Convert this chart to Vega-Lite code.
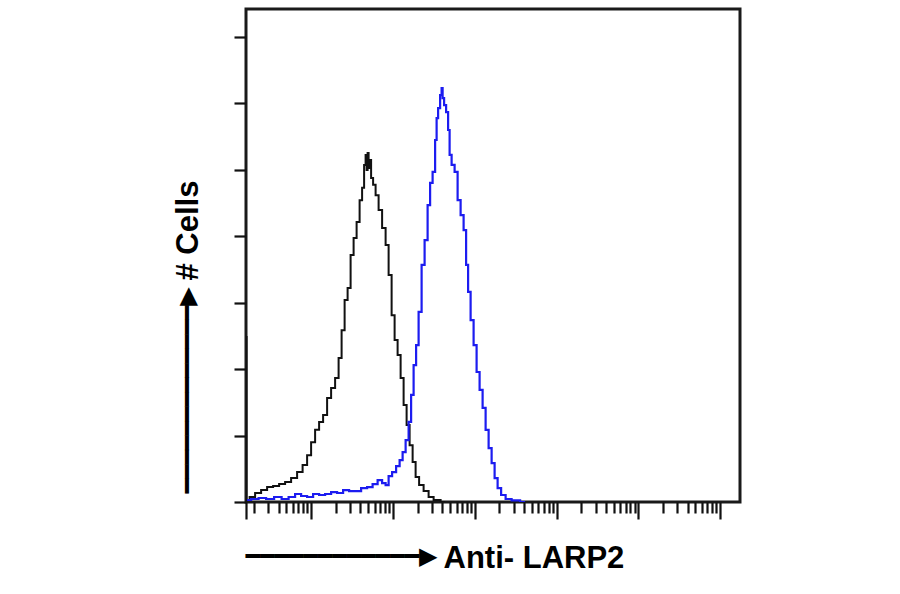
{
  "$schema": "https://vega.github.io/schema/vega-lite/v6.json",
  "autosize": {"type": "none"},
  "padding": {"left": 246, "top": 9, "right": 160, "bottom": 92},
  "width": 494,
  "height": 493,
  "background": "white",
  "config": {
    "view": {"stroke": "#1a1a1a", "strokeWidth": 3},
    "axis": {"grid": false, "labels": false, "domain": false, "tickColor": "#111111", "tickWidth": 2.2, "titleColor": "#000000"}
  },
  "data": {"values": [
    {"series": "control", "x": 1.6, "count": 49.6},
    {"series": "control", "x": 1.651, "count": 0.6},
    {"series": "control", "x": 1.9, "count": 1.5},
    {"series": "control", "x": 2.25, "count": 2.7},
    {"series": "control", "x": 2.664, "count": 3.6},
    {"series": "control", "x": 3.153, "count": 4.5},
    {"series": "control", "x": 3.734, "count": 4.8},
    {"series": "control", "x": 4.421, "count": 5.4},
    {"series": "control", "x": 5.234, "count": 6.0},
    {"series": "control", "x": 6.197, "count": 7.2},
    {"series": "control", "x": 7.337, "count": 9.0},
    {"series": "control", "x": 8.446, "count": 11.1},
    {"series": "control", "x": 9.453, "count": 14.1},
    {"series": "control", "x": 10.58, "count": 18.0},
    {"series": "control", "x": 11.84, "count": 21.7},
    {"series": "control", "x": 13.25, "count": 24.1},
    {"series": "control", "x": 14.83, "count": 26.2},
    {"series": "control", "x": 16.6, "count": 31.3},
    {"series": "control", "x": 18.58, "count": 34.3},
    {"series": "control", "x": 20.79, "count": 37.3},
    {"series": "control", "x": 22.62, "count": 43.3},
    {"series": "control", "x": 24.62, "count": 51.7},
    {"series": "control", "x": 26.79, "count": 60.8},
    {"series": "control", "x": 29.14, "count": 64.4},
    {"series": "control", "x": 31.71, "count": 74.3},
    {"series": "control", "x": 34.51, "count": 79.4},
    {"series": "control", "x": 37.55, "count": 84.2},
    {"series": "control", "x": 40.85, "count": 90.8},
    {"series": "control", "x": 43.22, "count": 94.5},
    {"series": "control", "x": 45.72, "count": 101.4},
    {"series": "control", "x": 47.03, "count": 104.4},
    {"series": "control", "x": 48.37, "count": 99.9},
    {"series": "control", "x": 49.75, "count": 105.0},
    {"series": "control", "x": 51.17, "count": 100.5},
    {"series": "control", "x": 52.63, "count": 102.9},
    {"series": "control", "x": 55.68, "count": 97.5},
    {"series": "control", "x": 58.9, "count": 95.4},
    {"series": "control", "x": 64.1, "count": 92.3},
    {"series": "control", "x": 69.75, "count": 87.8},
    {"series": "control", "x": 78.06, "count": 82.4},
    {"series": "control", "x": 84.95, "count": 77.3},
    {"series": "control", "x": 92.44, "count": 68.3},
    {"series": "control", "x": 100.6, "count": 56.2},
    {"series": "control", "x": 109.4, "count": 48.7},
    {"series": "control", "x": 119.1, "count": 44.2},
    {"series": "control", "x": 129.6, "count": 37.3},
    {"series": "control", "x": 141.0, "count": 29.2},
    {"series": "control", "x": 153.4, "count": 23.2},
    {"series": "control", "x": 167.0, "count": 17.1},
    {"series": "control", "x": 181.7, "count": 12.0},
    {"series": "control", "x": 197.6, "count": 7.5},
    {"series": "control", "x": 221.2, "count": 5.1},
    {"series": "control", "x": 254.6, "count": 3.3},
    {"series": "control", "x": 293.1, "count": 1.5},
    {"series": "control", "x": 337.5, "count": 0.6},
    {"series": "control", "x": 434.6, "count": 0},
    {"series": "LARP2", "x": 1.651, "count": 0.6},
    {"series": "LARP2", "x": 2.067, "count": 0.9},
    {"series": "LARP2", "x": 2.518, "count": 1.2},
    {"series": "LARP2", "x": 3.153, "count": 0.9},
    {"series": "LARP2", "x": 3.951, "count": 1.5},
    {"series": "LARP2", "x": 4.811, "count": 0.9},
    {"series": "LARP2", "x": 5.856, "count": 1.5},
    {"series": "LARP2", "x": 6.936, "count": 2.4},
    {"series": "LARP2", "x": 8.212, "count": 1.8},
    {"series": "LARP2", "x": 9.723, "count": 1.5},
    {"series": "LARP2", "x": 11.51, "count": 2.4},
    {"series": "LARP2", "x": 13.63, "count": 2.1},
    {"series": "LARP2", "x": 16.14, "count": 2.4},
    {"series": "LARP2", "x": 19.1, "count": 3.0},
    {"series": "LARP2", "x": 22.62, "count": 2.7},
    {"series": "LARP2", "x": 26.79, "count": 3.6},
    {"series": "LARP2", "x": 31.71, "count": 3.3},
    {"series": "LARP2", "x": 37.55, "count": 3.3},
    {"series": "LARP2", "x": 44.45, "count": 4.2},
    {"series": "LARP2", "x": 52.63, "count": 4.5},
    {"series": "LARP2", "x": 60.58, "count": 5.4},
    {"series": "LARP2", "x": 69.75, "count": 6.6},
    {"series": "LARP2", "x": 78.06, "count": 5.7},
    {"series": "LARP2", "x": 84.95, "count": 5.1},
    {"series": "LARP2", "x": 92.44, "count": 7.8},
    {"series": "LARP2", "x": 103.4, "count": 9.0},
    {"series": "LARP2", "x": 115.8, "count": 10.8},
    {"series": "LARP2", "x": 126.0, "count": 12.6},
    {"series": "LARP2", "x": 137.1, "count": 15.0},
    {"series": "LARP2", "x": 149.2, "count": 18.6},
    {"series": "LARP2", "x": 162.3, "count": 24.1},
    {"series": "LARP2", "x": 171.7, "count": 32.2},
    {"series": "LARP2", "x": 186.8, "count": 41.2},
    {"series": "LARP2", "x": 197.6, "count": 47.2},
    {"series": "LARP2", "x": 215.1, "count": 57.2},
    {"series": "LARP2", "x": 233.9, "count": 71.3},
    {"series": "LARP2", "x": 254.6, "count": 78.8},
    {"series": "LARP2", "x": 277.0, "count": 89.3},
    {"series": "LARP2", "x": 293.1, "count": 96.0},
    {"series": "LARP2", "x": 318.9, "count": 99.3},
    {"series": "LARP2", "x": 337.5, "count": 108.9},
    {"series": "LARP2", "x": 347.0, "count": 115.5},
    {"series": "LARP2", "x": 367.2, "count": 118.5},
    {"series": "LARP2", "x": 388.3, "count": 122.4},
    {"series": "LARP2", "x": 399.4, "count": 124.5},
    {"series": "LARP2", "x": 411.0, "count": 121.5},
    {"series": "LARP2", "x": 434.6, "count": 119.4},
    {"series": "LARP2", "x": 459.8, "count": 117.3},
    {"series": "LARP2", "x": 486.4, "count": 111.9},
    {"series": "LARP2", "x": 500.4, "count": 104.4},
    {"series": "LARP2", "x": 544.4, "count": 101.4},
    {"series": "LARP2", "x": 592.4, "count": 99.3},
    {"series": "LARP2", "x": 644.6, "count": 90.8},
    {"series": "LARP2", "x": 701.5, "count": 86.3},
    {"series": "LARP2", "x": 763.0, "count": 81.8},
    {"series": "LARP2", "x": 807.4, "count": 71.3},
    {"series": "LARP2", "x": 854.2, "count": 63.2},
    {"series": "LARP2", "x": 929.3, "count": 54.7},
    {"series": "LARP2", "x": 1011, "count": 47.2},
    {"series": "LARP2", "x": 1100, "count": 39.1},
    {"series": "LARP2", "x": 1197, "count": 33.7},
    {"series": "LARP2", "x": 1303, "count": 28.3},
    {"series": "LARP2", "x": 1418, "count": 21.7},
    {"series": "LARP2", "x": 1543, "count": 16.2},
    {"series": "LARP2", "x": 1679, "count": 11.7},
    {"series": "LARP2", "x": 1826, "count": 7.2},
    {"series": "LARP2", "x": 1988, "count": 4.2},
    {"series": "LARP2", "x": 2225, "count": 2.1},
    {"series": "LARP2", "x": 2561, "count": 0.9},
    {"series": "LARP2", "x": 3118, "count": 0.5},
    {"series": "LARP2", "x": 4131, "count": 0}
  ]},
  "layer": [
    {
      "transform": [{"filter": "datum.series === 'control'"}],
      "mark": {"type": "line", "color": "#111111", "strokeWidth": 2, "interpolate": "step", "clip": true},
      "encoding": {
        "x": {
          "field": "x", "type": "quantitative",
          "scale": {"type": "log", "domain": [1.6, 1750000], "nice": false},
          "axis": {
            "orient": "bottom",
            "values": [1.6, 10, 100, 1000, 10000, 100000, 1000000],
            "tickSize": 17,
            "title": "Anti- LARP2",
            "titleFont": "Liberation Sans", "titleFontSize": 31, "titleFontWeight": "bold",
            "titleAlign": "left", "titleBaseline": "alphabetic", "titleAnchor": null,
            "titleX": 197, "titleY": 65
          }
        },
        "y": {
          "field": "count", "type": "quantitative",
          "scale": {"domain": [0, 148.3], "nice": false},
          "axis": {
            "orient": "left",
            "values": [0, 20, 40, 60, 80, 100, 120, 140],
            "tickSize": 12,
            "title": "# Cells",
            "titleFont": "Liberation Sans", "titleFontSize": 31, "titleFontWeight": "bold",
            "titleAngle": 270, "titleAlign": "left", "titleBaseline": "alphabetic", "titleAnchor": null,
            "titleX": -49, "titleY": 271
          }
        }
      }
    },
    {
      "transform": [{"filter": "datum.series === 'LARP2'"}],
      "mark": {"type": "line", "color": "#1c1cf0", "strokeWidth": 2.2, "interpolate": "step", "clip": true},
      "encoding": {
        "x": {
          "field": "x", "type": "quantitative",
          "scale": {"type": "log", "domain": [1.6, 1750000], "nice": false},
          "axis": {
            "orient": "bottom",
            "values": [2, 3, 4, 5, 6, 7, 8, 9, 20, 30, 40, 50, 60, 70, 80, 90, 200, 300, 400, 500, 600, 700, 800, 900, 2000, 3000, 4000, 5000, 6000, 7000, 8000, 9000, 20000, 30000, 40000, 50000, 60000, 70000, 80000, 90000, 200000, 300000, 400000, 500000, 600000, 700000, 800000, 900000],
            "tickSize": 11,
            "title": "━━━━━━━━━━━━▶",
            "titleFont": "DejaVu Sans", "titleFontSize": 24, "titleFontWeight": "normal",
            "titleAlign": "left", "titleBaseline": "middle", "titleAnchor": null,
            "titleX": -1, "titleY": 54
          }
        },
        "y": {
          "field": "count", "type": "quantitative",
          "scale": {"domain": [0, 148.3], "nice": false},
          "axis": {
            "orient": "left",
            "ticks": false,
            "title": "━━━━━━━━━━━━━▶",
            "titleFont": "DejaVu Sans", "titleFontSize": 24, "titleFontWeight": "normal",
            "titleAngle": 270, "titleAlign": "left", "titleBaseline": "middle", "titleAnchor": null,
            "titleX": -59, "titleY": 484
          }
        }
      }
    }
  ],
  "resolve": {"axis": {"x": "independent", "y": "independent"}}
}
